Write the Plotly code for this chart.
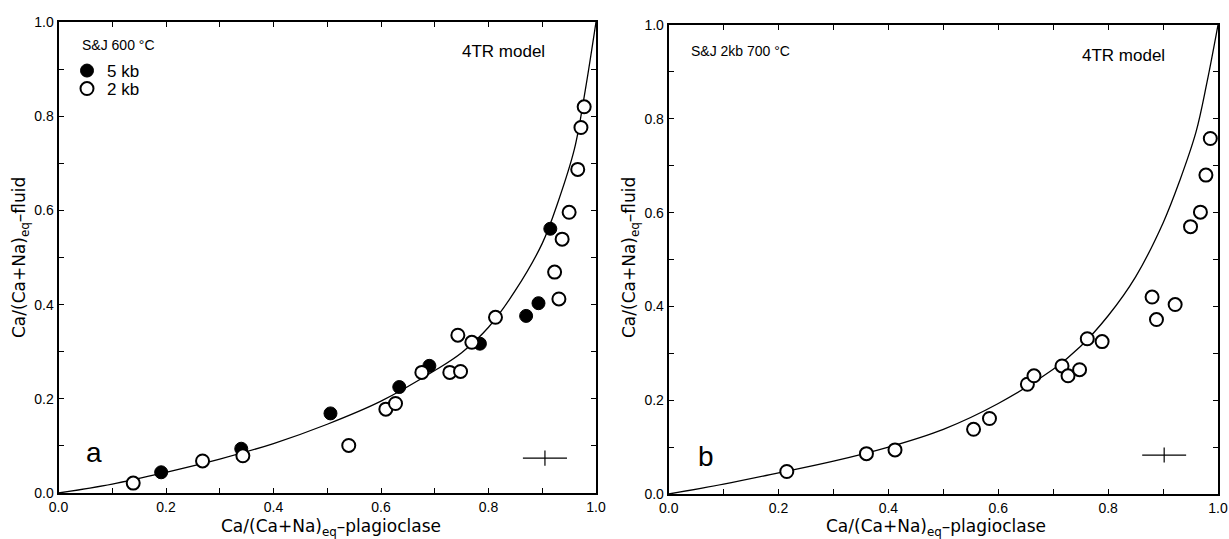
import plotly.graph_objects as go

# ---------------- data ----------------
# panel a : S&J 600 °C
a5_x = [0.191, 0.340, 0.506, 0.634, 0.690, 0.784, 0.870, 0.893, 0.915]
a5_y = [0.044, 0.094, 0.169, 0.225, 0.270, 0.317, 0.376, 0.403, 0.561]
a2_x = [0.139, 0.268, 0.343, 0.540, 0.609, 0.627, 0.676, 0.728, 0.748, 0.743,
        0.769, 0.813, 0.931, 0.923, 0.937, 0.950, 0.966, 0.972, 0.978]
a2_y = [0.021, 0.068, 0.079, 0.101, 0.178, 0.190, 0.256, 0.256, 0.258, 0.335,
        0.320, 0.373, 0.412, 0.469, 0.539, 0.596, 0.687, 0.776, 0.820]
a_model_x = [0, 0.1, 0.2, 0.3, 0.4, 0.5, 0.6, 0.7, 0.75, 0.8, 0.85, 0.9, 0.93, 0.96, 0.98, 1.0]
a_model_y = [0, 0.019, 0.044, 0.072, 0.105, 0.146, 0.195, 0.260, 0.298, 0.352, 0.430,
             0.530, 0.620, 0.731, 0.855, 1.0]
a_err_x, a_err_y, a_err_dx, a_err_dy = [0.905], [0.074], [0.041], [0.016]

# panel b : S&J 2kb 700 °C
b_x = [0.215, 0.360, 0.412, 0.555, 0.584, 0.653, 0.665, 0.716, 0.727, 0.748,
       0.762, 0.789, 0.880, 0.888, 0.922, 0.950, 0.968, 0.978, 0.986]
b_y = [0.048, 0.086, 0.094, 0.138, 0.161, 0.234, 0.252, 0.273, 0.252, 0.265,
       0.331, 0.325, 0.420, 0.372, 0.404, 0.570, 0.601, 0.680, 0.758]
b_model_x = [0, 0.1, 0.2, 0.3, 0.4, 0.5, 0.6, 0.7, 0.75, 0.8, 0.85, 0.9, 0.93, 0.96, 0.98, 1.0]
b_model_y = [0, 0.021, 0.045, 0.070, 0.100, 0.138, 0.193, 0.266, 0.315, 0.380, 0.463,
             0.578, 0.667, 0.772, 0.878, 1.0]
b_err_x, b_err_y, b_err_dx, b_err_dy = [0.902], [0.083], [0.040], [0.016]

tick_vals = [0.0, 0.1, 0.2, 0.3, 0.4, 0.5, 0.6, 0.7, 0.8, 0.9, 1.0]
tick_text = ["0.0", "", "0.2", "", "0.4", "", "0.6", "", "0.8", "", "1.0"]

# ---------------- figure ----------------
W, H = 1229, 539
fig = go.Figure()

def px_x(p):
    return p / W

def px_y(p):
    return 1 - p / H

line_style = dict(color="black", width=1.3)
open_m = dict(symbol="circle", size=13, color="white", line=dict(color="black", width=2))
fill_m = dict(symbol="circle", size=13, color="black", line=dict(color="black", width=1))

# panel a
fig.add_trace(go.Scatter(x=a_model_x, y=a_model_y, mode="lines", line=line_style,
                         line_shape="spline", showlegend=False, xaxis="x", yaxis="y"))
fig.add_trace(go.Scatter(x=a5_x, y=a5_y, mode="markers", marker=fill_m, name="5 kb",
                         legend="legend", xaxis="x", yaxis="y"))
fig.add_trace(go.Scatter(x=a2_x, y=a2_y, mode="markers", marker=open_m, name="2 kb",
                         legend="legend2", xaxis="x", yaxis="y"))
fig.add_trace(go.Scatter(x=a_err_x, y=a_err_y, mode="markers", marker=dict(size=1, opacity=0),
                         error_x=dict(type="data", array=a_err_dx, width=0, thickness=1.2, color="black"),
                         error_y=dict(type="data", array=a_err_dy, width=0, thickness=1.2, color="black"),
                         showlegend=False, xaxis="x", yaxis="y"))

# panel b
fig.add_trace(go.Scatter(x=b_model_x, y=b_model_y, mode="lines", line=line_style,
                         line_shape="spline", showlegend=False, xaxis="x2", yaxis="y2"))
fig.add_trace(go.Scatter(x=b_x, y=b_y, mode="markers", marker=open_m, showlegend=False,
                         xaxis="x2", yaxis="y2"))
fig.add_trace(go.Scatter(x=b_err_x, y=b_err_y, mode="markers", marker=dict(size=1, opacity=0),
                         error_x=dict(type="data", array=b_err_dx, width=0, thickness=1.2, color="black"),
                         error_y=dict(type="data", array=b_err_dy, width=0, thickness=1.2, color="black"),
                         showlegend=False, xaxis="x2", yaxis="y2"))

tick_font = dict(family="Liberation Sans, Arial, sans-serif", size=14, color="black")
axis_common = dict(range=[0, 1], tickmode="array", tickvals=tick_vals, ticktext=tick_text,
                   ticks="inside", ticklen=5, tickwidth=1.2, tickcolor="black",
                   showline=True, linecolor="black", linewidth=2, mirror="allticks",
                   showgrid=False, zeroline=False, tickfont=tick_font, fixedrange=True,
                   automargin=False)

leg_font = dict(family="Liberation Sans, Arial, sans-serif", size=17, color="black")
fig.update_layout(
    width=W, height=H,
    margin=dict(l=0, r=0, t=0, b=0, autoexpand=False),
    paper_bgcolor="white", plot_bgcolor="white",
    xaxis=dict(domain=[px_x(58.5), px_x(596)], anchor="y", **axis_common),
    yaxis=dict(domain=[px_y(493), px_y(22)], anchor="x", **axis_common),
    xaxis2=dict(domain=[px_x(668.7), px_x(1218)], anchor="y2", **axis_common),
    yaxis2=dict(domain=[px_y(494), px_y(25)], anchor="x2", **axis_common),
    showlegend=True,
    legend=dict(x=px_x(67), y=px_y(71), xanchor="left", yanchor="middle",
                bgcolor="rgba(0,0,0,0)", font=leg_font, itemwidth=30),
    legend2=dict(x=px_x(67), y=px_y(89), xanchor="left", yanchor="middle",
                 bgcolor="rgba(0,0,0,0)", font=leg_font, itemwidth=30),
)

title_font = dict(family="DejaVu Sans, Verdana, sans-serif", size=17, color="black")
txt_font = dict(family="Liberation Sans, Arial, sans-serif", color="black")

annotations = [
    # axis titles
    dict(text="Ca/(Ca+Na)<sub>eq</sub>–plagioclase", x=px_x(331), y=px_y(527), xref="paper", yref="paper",
         showarrow=False, font=title_font, xanchor="center", yanchor="middle"),
    dict(text="Ca/(Ca+Na)<sub>eq</sub>–plagioclase", x=px_x(936), y=px_y(527), xref="paper", yref="paper",
         showarrow=False, font=title_font, xanchor="center", yanchor="middle"),
    dict(text="Ca/(Ca+Na)<sub>eq</sub>–fluid", x=px_x(20), y=px_y(258), xref="paper", yref="paper",
         showarrow=False, font=title_font, textangle=-90, xanchor="center", yanchor="middle"),
    dict(text="Ca/(Ca+Na)<sub>eq</sub>–fluid", x=px_x(630), y=px_y(258), xref="paper", yref="paper",
         showarrow=False, font=title_font, textangle=-90, xanchor="center", yanchor="middle"),
    # panel texts
    dict(text="S&J 600 °C", x=0.040, y=0.951, xref="x", yref="y", showarrow=False,
         font=dict(size=14, **txt_font), xanchor="left", yanchor="middle"),
    dict(text="4TR model", x=0.747, y=0.938, xref="x", yref="y", showarrow=False,
         font=dict(size=17, **txt_font), xanchor="left", yanchor="middle"),
    dict(text="a", x=0.048, y=0.085, xref="x", yref="y", showarrow=False,
         font=dict(size=28, **txt_font), xanchor="left", yanchor="middle"),
    dict(text="S&J 2kb 700 °C", x=0.037, y=0.944, xref="x2", yref="y2", showarrow=False,
         font=dict(size=14, **txt_font), xanchor="left", yanchor="middle"),
    dict(text="4TR model", x=0.749, y=0.936, xref="x2", yref="y2", showarrow=False,
         font=dict(size=17, **txt_font), xanchor="left", yanchor="middle"),
    dict(text="b", x=0.050, y=0.080, xref="x2", yref="y2", showarrow=False,
         font=dict(size=28, **txt_font), xanchor="left", yanchor="middle"),
]
fig.update_layout(annotations=annotations)

fig.write_html("out.html", config={"displayModeBar": False},
               post_script="document.body.style.margin='0px';document.body.style.overflow='hidden';")
